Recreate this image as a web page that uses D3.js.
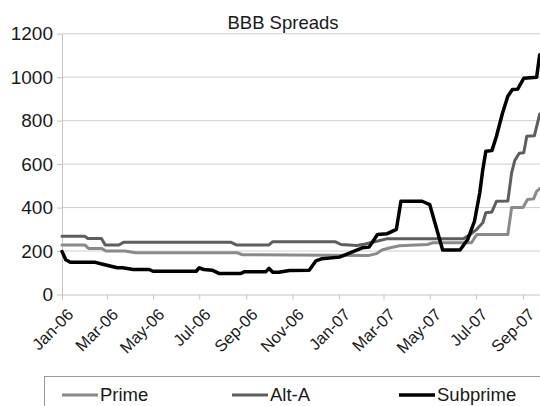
<!DOCTYPE html>
<html><head><meta charset="utf-8">
<script src="https://cdn.jsdelivr.net/npm/d3@7"></script>
<style>
body{margin:0;background:#fff;}
svg{display:block;font-family:"Liberation Sans",Arial,sans-serif;}
</style></head>
<body>
<svg id="chart" width="540" height="406"></svg>
<script>
const title = "BBB Spreads";
const seriesNames = ["Prime", "Alt-A", "Subprime"];
const seriesColors = ["#8a8a8a", "#5e5e5e", "#000000"];
const yTicks = [0, 200, 400, 600, 800, 1000, 1200];
const xTickDates = ["2006-01-01","2006-03-01","2006-05-01","2006-07-01","2006-09-01","2006-11-01","2007-01-01","2007-03-01","2007-05-01","2007-07-01","2007-09-01"];

const prime = [
["2006-01-01",228],["2006-01-31",228],["2006-02-05",212],["2006-02-22",212],["2006-02-28",200],
["2006-03-25",200],["2006-04-08",192],["2006-08-20",192],["2006-08-27",183],["2007-02-10",180],
["2007-02-20",188],["2007-02-27",205],["2007-03-10",215],["2007-03-22",224],["2007-04-28",230],
["2007-05-05",238],["2007-06-25",238],["2007-07-02",276],["2007-08-12",276],["2007-08-17",400],
["2007-09-01",400],["2007-09-07",437],["2007-09-15",440],["2007-09-19",475],["2007-09-23",487]
];
const altA = [
["2006-01-01",268],["2006-01-31",268],["2006-02-04",258],["2006-02-22",258],["2006-02-27",228],
["2006-03-17",228],["2006-03-23",240],["2006-08-12",240],["2006-08-19",228],["2006-10-01",228],
["2006-10-06",243],["2006-12-27",243],["2007-01-04",230],["2007-01-25",225],["2007-02-05",232],
["2007-02-20",245],["2007-03-05",256],["2007-06-14",256],["2007-06-23",275],["2007-07-02",300],
["2007-07-10",330],["2007-07-14",376],["2007-07-22",380],["2007-07-28",429],["2007-08-12",430],
["2007-08-17",560],["2007-08-21",615],["2007-08-27",650],["2007-09-02",652],["2007-09-06",728],
["2007-09-16",730],["2007-09-23",830]
];
const subprime = [
["2006-01-01",198],["2006-01-06",160],["2006-01-12",148],["2006-02-14",148],["2006-02-25",138],
["2006-03-15",123],["2006-03-22",123],["2006-04-05",115],["2006-04-26",115],["2006-05-01",107],
["2006-06-27",107],["2006-07-01",123],["2006-07-07",115],["2006-07-18",112],["2006-07-27",97],
["2006-08-25",97],["2006-08-30",105],["2006-09-27",105],["2006-10-01",120],["2006-10-06",102],
["2006-10-14",102],["2006-10-28",110],["2006-11-23",112],["2006-12-02",155],["2006-12-10",165],
["2007-01-02",172],["2007-01-15",190],["2007-02-01",215],["2007-02-10",218],["2007-02-21",276],
["2007-03-06",280],["2007-03-18",300],["2007-03-24",429],["2007-04-21",429],["2007-05-01",414],
["2007-05-18",205],["2007-06-10",205],["2007-06-20",253],["2007-06-29",337],["2007-07-06",468],
["2007-07-10",575],["2007-07-14",659],["2007-07-22",662],["2007-07-28",728],["2007-08-05",835],
["2007-08-12",912],["2007-08-18",943],["2007-08-25",945],["2007-09-02",995],["2007-09-19",1000],
["2007-09-23",1103]
];
const seriesData = [prime, altA, subprime];

const parse = d3.utcParse("%Y-%m-%d");
const svg = d3.select("#chart");
const plotL = 62, plotR = 541, plotT = 33.7, plotB = 294.5;

const x = d3.scaleUtc().domain([parse(xTickDates[0]), parse(xTickDates[xTickDates.length-1])]).range([62, 523]);
const y = d3.scaleLinear().domain([0, 1200]).range([plotB, plotT]);

// gridlines
svg.append("g").selectAll("line").data(yTicks.filter(d => d > 0)).join("line")
  .attr("x1", plotL).attr("x2", plotR)
  .attr("y1", d => y(d)).attr("y2", d => y(d))
  .attr("stroke", "#cfcfcf").attr("stroke-width", 1);

// y axis
const yAxis = svg.append("g").attr("transform", `translate(${plotL},0)`)
  .call(d3.axisLeft(y).tickValues(yTicks).tickSize(5).tickSizeOuter(0).tickFormat(d3.format("d")));
yAxis.select(".domain").attr("stroke", "#c4c4c4");
yAxis.selectAll(".tick line").attr("stroke", "#c4c4c4");
yAxis.selectAll(".tick text").attr("font-size", 19).attr("fill", "#1a1a1a").attr("x", -9)
  .attr("font-family", "Liberation Sans, Arial, sans-serif");

// x axis
const xAxis = svg.append("g").attr("transform", `translate(0,${plotB})`)
  .call(d3.axisBottom(x).tickValues(xTickDates.map(parse)).tickSize(5).tickSizeOuter(0).tickFormat(d3.utcFormat("%b-%y")));
xAxis.select(".domain").attr("d", `M${plotL},0.5H${plotR}`).attr("stroke", "#c4c4c4");
xAxis.selectAll(".tick line").attr("stroke", "#c4c4c4");
xAxis.selectAll(".tick text")
  .attr("font-size", 16.5).attr("fill", "#1a1a1a")
  .attr("font-family", "Liberation Sans, Arial, sans-serif")
  .attr("text-anchor", "end").attr("x", 0).attr("y", 0).attr("dy", "0.35em")
  .attr("transform", "translate(8,17) rotate(-45)");

// lines
const line = d3.line().x(d => x(parse(d[0]))).y(d => y(d[1]));
const widths = [3, 3, 3.5];
seriesData.forEach((s, i) => {
  svg.append("path").datum(s).attr("d", line)
    .attr("fill", "none").attr("stroke", seriesColors[i]).attr("stroke-width", widths[i])
    .attr("stroke-linejoin", "round").attr("stroke-linecap", "round");
});

// title
svg.append("text").attr("x", 283).attr("y", 29).attr("text-anchor", "middle")
  .attr("font-size", 18.5).attr("fill", "#1a1a1a").text(title);

// legend
const lg = svg.append("g");
lg.append("rect").attr("x", 44.5).attr("y", 376.5).attr("width", 520).attr("height", 60)
  .attr("fill", "#fff").attr("stroke", "#9a9a9a").attr("stroke-width", 1);
const legX = [62, 232, 399];
seriesNames.forEach((n, i) => {
  lg.append("line").attr("x1", legX[i]).attr("x2", legX[i] + 36).attr("y1", 395).attr("y2", 395)
    .attr("stroke", seriesColors[i]).attr("stroke-width", widths[i]);
  lg.append("text").attr("x", legX[i] + 38).attr("y", 401)
    .attr("font-size", 18.5).attr("fill", "#1a1a1a").text(n);
});
</script>
</body></html>
